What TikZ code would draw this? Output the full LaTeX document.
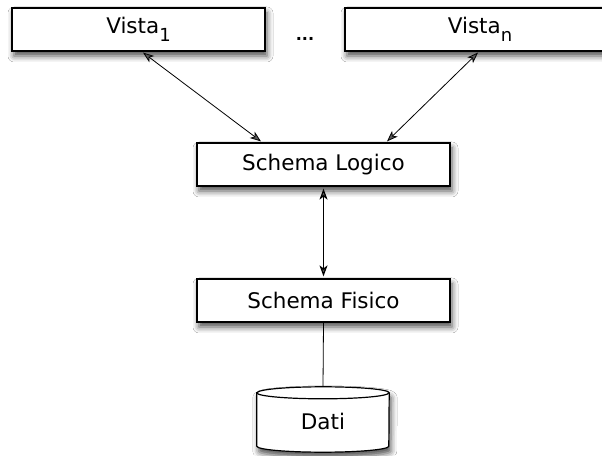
\documentclass[tikz,border=0pt]{standalone}
\usepackage{fontspec}
\setmainfont{DejaVu Sans}
\usetikzlibrary{arrows.meta,shadows.blur}

\tikzset{
  softshadow/.style={blur shadow={shadow xshift=2pt, shadow yshift=-5pt,
    shadow blur radius=6pt, shadow opacity=70}},
  box/.style={draw=black, line width=1.2pt, fill=white, minimum height=43pt,
    inner sep=0pt, font=\fontsize{21.5}{24}\selectfont, softshadow},
  link/.style={line width=0.8pt, {Stealth[length=11pt,width=8pt,inset=3pt]}-{Stealth[length=11pt,width=8pt,inset=3pt]}},
  plain/.style={line width=0.8pt},
  label/.style={font=\fontsize{21.5}{24}\selectfont, inner sep=0pt}
}
\newcommand{\lowsub}[1]{\raisebox{-8pt}{\fontsize{18}{18}\selectfont #1}}

\begin{document}
\begin{tikzpicture}[x=1pt,y=1pt]
  \clip (0,0) rectangle (602,455);
  \fill[white] (0,0) rectangle (602,455);

  % external views
  \node[box, minimum width=253pt] (v1) at (138.5,425.5) {Vista\lowsub{1}};
  \node[box, minimum width=270pt] (vn) at (480,425.5) {Vista\lowsub{n}};
  \node[label, font=\bfseries\fontsize{16}{18}\selectfont] (dots) at (305,416) {...};

  % logical and physical schema
  \node[box, minimum width=253pt] (sl) at (323.5,290.5) {Schema Logico};
  \node[box, minimum width=253pt] (sf) at (323.5,154.5) {Schema Fisico};

  % data store
  \node[minimum width=132pt, minimum height=65pt, inner sep=0pt, label] (dati) at (323,35.5) {};
  \path[draw=black, line width=1.2pt, fill=white, softshadow]
    ([yshift=-6pt]dati.north west) -- ([yshift=6pt]dati.south west)
    arc[start angle=180, end angle=360, x radius=66pt, y radius=6pt]
    -- ([yshift=-6pt]dati.north east)
    arc[start angle=0, end angle=180, x radius=66pt, y radius=6pt] -- cycle;
  \draw[line width=1.2pt] ([yshift=-6pt]dati.north west)
    arc[start angle=180, end angle=360, x radius=66pt, y radius=6pt];
  \node[label] at ([yshift=-2pt]dati.center) {Dati};

  % connectors
  \draw[link] ([xshift=4.5pt,yshift=-1pt]v1.south) -- ([xshift=-62.5pt,yshift=1pt]sl.north);
  \draw[link] ([xshift=-2pt,yshift=-1pt]vn.south) -- ([xshift=63.5pt,yshift=1pt]sl.north);
  \draw[link, line width=1.2pt] ([yshift=-2pt]sl.south) -- ([yshift=2pt]sf.north);
  \draw[plain] (sf.south) -- (dati.north);
\end{tikzpicture}
\end{document}
